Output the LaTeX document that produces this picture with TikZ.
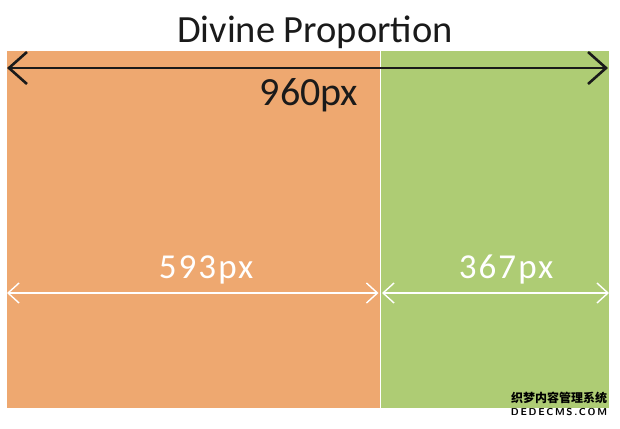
\documentclass[tikz,border=0pt]{standalone}
\usepackage{fontspec}
\setmainfont{Carlito}
\newfontfamily\cjk{Noto Sans CJK SC}
\newfontfamily\wide[LetterSpace=6]{Carlito}
\usetikzlibrary{arrows.meta}
\definecolor{orng}{RGB}{238,168,112}
\definecolor{grn}{RGB}{174,204,116}
\definecolor{ink}{RGB}{26,26,26}
\begin{document}
\begin{tikzpicture}[x=1pt,y=-1pt,
  bigarrow/.style={draw=ink,line width=2.6pt,
    {Straight Barb[length=18pt,width=32pt]}-{Straight Barb[length=18pt,width=32pt]}},
  smallarrow/.style={draw=white,line width=1.4pt,
    {Straight Barb[length=11pt,width=20pt]}-{Straight Barb[length=11pt,width=20pt]}},
  lbl/.style={anchor=base,inner sep=0pt,font=\fontsize{40}{40}\selectfont},
  wlbl/.style={anchor=base,inner sep=0pt,text=white,font=\wide\fontsize{35}{35}\selectfont}]
\useasboundingbox[fill=white] (0,0) rectangle (620,428);
\fill[orng] (7,51) rectangle (379.5,408);
\fill[grn] (381,51) rectangle (609,408);
\node[lbl,text=ink,font=\fontsize{38.5}{38.5}\selectfont] (title) at (315,42) {Divine Proportion};
\coordinate (bl) at (7,68);
\coordinate (br) at (608,68);
\draw[bigarrow] (bl) -- (br);
\node[lbl,text=ink] (total) at (309,105) {960px};
\coordinate (wl) at (7,293);
\coordinate (wm1) at (378.5,293);
\coordinate (wm2) at (382,293);
\coordinate (wr) at (609,293);
\draw[smallarrow] (wl) -- (wm1);
\draw[smallarrow] (wm2) -- (wr);
\node[wlbl] (a) at (206,278) {593px};
\node[wlbl] (b) at (506,278) {367px};
\node[inner sep=0pt,font=\cjk\bfseries\fontsize{12}{12}\selectfont] (wm) at (559,398) {织梦内容管理系统};
\node[inner sep=0pt,font=\sffamily\bfseries\fontsize{10}{10}\selectfont] (wm2t) at (559,412) {D\,E\,D\,E\,C\,M\,S\,.\,C\,O\,M};
\end{tikzpicture}
\end{document}
